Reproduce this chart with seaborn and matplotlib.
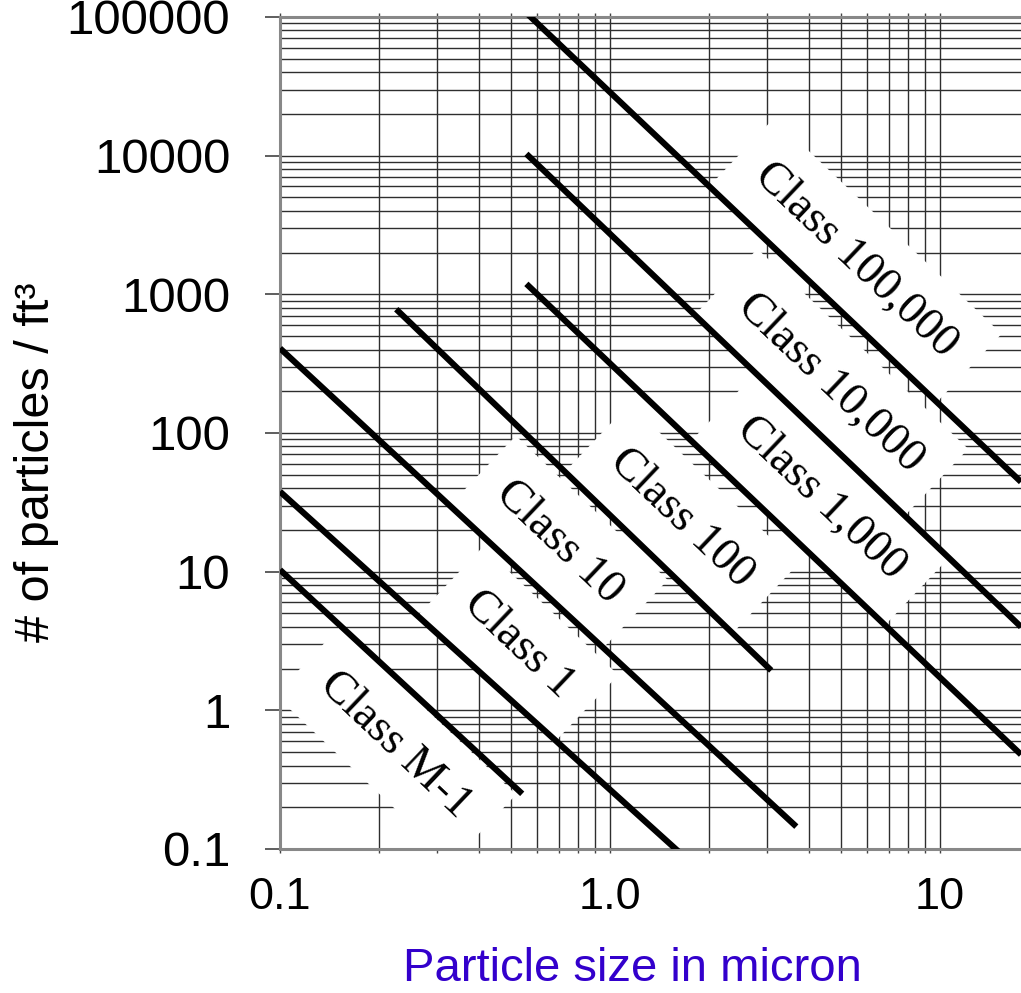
import numpy as np
import pandas as pd
import matplotlib
matplotlib.use("Agg")
import matplotlib.pyplot as plt
from matplotlib.ticker import FixedLocator, FixedFormatter, LogLocator, NullFormatter
import seaborn as sns

# ---- data ----
classes = ["Class 100,000", "Class 10,000", "Class 1,000", "Class 100",
           "Class 10", "Class 1", "Class M-1"]
x_start = [0.558, 0.558, 0.558, 0.225, 0.100, 0.100, 0.100]
y_start = [107000, 10300, 1190, 781, 408, 37.8, 10.3]
x_end = [17.6, 17.6, 17.6, 3.08, 3.67, 1.62, 0.542]
y_end = [44.4, 4.0, 0.48, 1.94, 0.145, 0.095, 0.25]
label_x = [5.55, 4.66, 4.37, 1.647, 0.703, 0.528, 0.224]
label_y = [1770, 230, 34.0, 24.4, 16.4, 2.97, 0.564]

x_ticks = [0.1, 1.0, 10.0]
x_ticklabels = ["0.1", "1.0", "10"]
y_ticks = [0.1, 1, 10, 100, 1000, 10000, 100000]
y_ticklabels = ["0.1", "1", "10", "100", "1000", "10000", "100000"]

rows = []
for c, xs, ys, xe, ye in zip(classes, x_start, y_start, x_end, y_end):
    rows.append({"cls": c, "size": xs, "count": ys})
    rows.append({"cls": c, "size": xe, "count": ye})
df = pd.DataFrame(rows)

sns.set_style("white")
plt.rcParams["font.family"] = ["Liberation Sans", "DejaVu Sans"]

fig = plt.figure(figsize=(10.21, 9.93), dpi=100)
ax = fig.add_axes([280 / 1021, 144 / 993, 741 / 1021, 832 / 993])

sns.lineplot(data=df, x="size", y="count", hue="cls", units="cls",
             estimator=None, palette=["black"] * len(classes), legend=False,
             linewidth=4.4, solid_capstyle="butt", zorder=3, ax=ax, sort=True)

ax.set_xscale("log")
ax.set_yscale("log")
ax.set_xlim(0.1, 17.6)
ax.set_ylim(0.1, 100000)

ax.xaxis.set_major_locator(FixedLocator(x_ticks))
ax.xaxis.set_major_formatter(FixedFormatter(x_ticklabels))
ax.yaxis.set_major_locator(FixedLocator(y_ticks))
ax.yaxis.set_major_formatter(FixedFormatter(y_ticklabels))
ax.xaxis.set_minor_locator(LogLocator(base=10, subs=np.arange(2, 10), numticks=20))
ax.yaxis.set_minor_locator(LogLocator(base=10, subs=np.arange(2, 10), numticks=20))
ax.xaxis.set_minor_formatter(NullFormatter())
ax.yaxis.set_minor_formatter(NullFormatter())

ax.set_axisbelow(True)
ax.grid(True, which="both", color="#2e2e2e", linewidth=1.0)

for side in ["left", "bottom", "top"]:
    ax.spines[side].set_visible(True)
    ax.spines[side].set_color("#888888")
    ax.spines[side].set_linewidth(2.2)
ax.spines["right"].set_visible(False)

ax.tick_params(axis="y", which="major", direction="out", left=True, length=10.8,
               width=1.1, color="#333333", pad=25, labelsize=35.5, labelcolor="black")
ax.tick_params(axis="y", which="minor", length=0)
ax.tick_params(axis="x", which="both", direction="out", bottom=True, top=True,
               length=3, width=1, color="#444444")
ax.tick_params(axis="x", which="major", pad=17, labelsize=32.5, labelcolor="black")

ax.set_ylabel("# of particles / ft³", fontsize=35, color="black")
ax.yaxis.set_label_coords(-0.298, 0.465)
ax.set_xlabel("Particle size in micron", fontsize=34, color="#3300cc")
ax.xaxis.set_label_coords(0.476, -0.118)

for name, lx, ly in zip(classes, label_x, label_y):
    ax.text(lx, ly, name, rotation=-43.5, rotation_mode="anchor",
            ha="center", va="center", fontsize=33.5,
            family=["Liberation Serif", "DejaVu Serif"], color="black",
            bbox=dict(boxstyle="square,pad=0.55", fc="white", ec="none"),
            zorder=2.5)

fig.savefig("out.png", dpi=100)
